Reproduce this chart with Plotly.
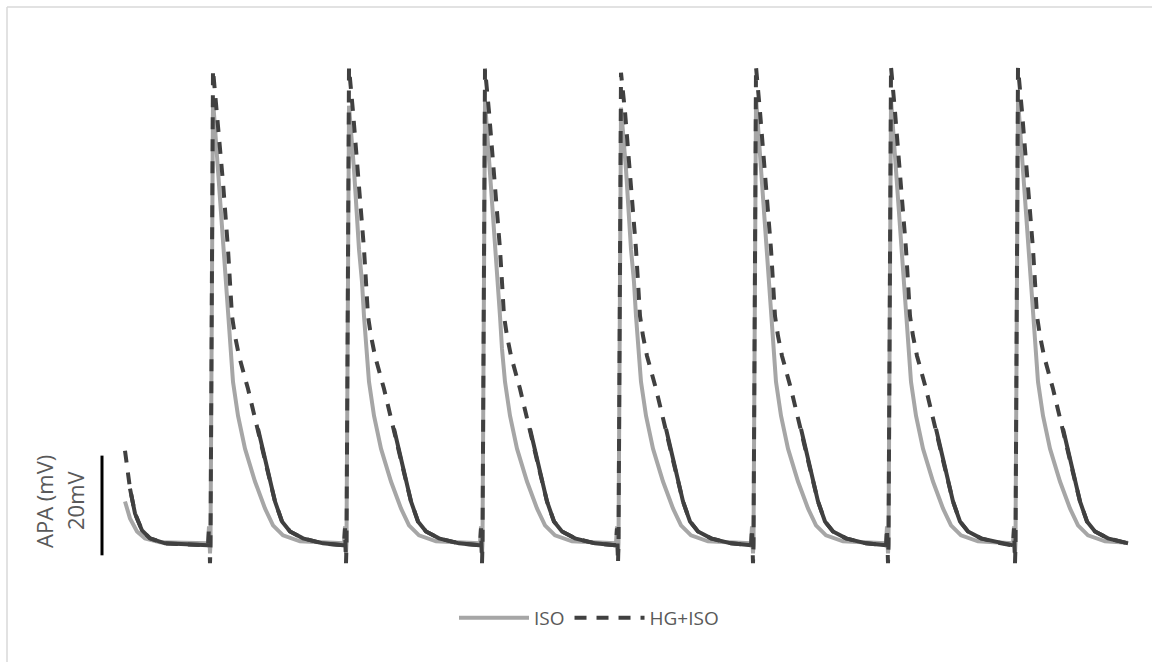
import plotly.graph_objects as go

# ---------------- data (time in ms, membrane potential in mV) ----------------
beat_onset_ms = [170, 442, 714, 986, 1256, 1526, 1780]
trace_end_ms = 2006

iso_peak_mv = [9.4, 8.2, 9.0, 7.8, 9.8, 9.4, 9.4]
hg_peak_mv = [15.4, 15.8, 15.6, 14.8, 16.0, 16.0, 15.8]

# one-beat waveform, relative to the stimulus onset
# (the entry at PEAK_IDX is replaced by each beat's own peak)
PEAK_IDX = 5
iso_beat_t = [-4, -2, -1, 0, 1, 6, 16, 26, 32, 36, 40, 46, 56, 70, 90, 110, 126,
              146, 180, 240]
iso_beat_v = [-79.6, -76.2, -79.6, -81.6, -79.6, 9.4, -4.6, -20.6, -27.2, -34.0,
              -40.6, -47.2, -54.0, -60.6, -67.2, -72.6, -76.0, -78.0, -79.2, -79.6]
hg_beat_t = [-4, -2, -1, 0, 1, 6, 14, 20, 26, 36, 40, 44, 50, 58, 76, 96, 114, 130,
             144, 160, 186, 226, 266]
hg_beat_v = [-80.0, -76.6, -80.0, -83.6, -80.0, 15.4, 7.0, 0.0, -7.2, -20.6, -27.2,
             -34.0, -38.0, -42.0, -48.6, -56.6, -64.6, -71.2, -75.2, -77.2, -78.6,
             -79.6, -80.0]

# tail of the preceding beat at the start of the recording
iso_start_t = [0, 10, 24, 40, 70, 166]
iso_start_v = [-71.2, -74.6, -77.2, -78.6, -79.4, -79.6]
hg_start_t = [0, 10, 20, 34, 50, 80, 166]
hg_start_v = [-61.0, -68.6, -73.6, -77.0, -78.6, -79.6, -80.0]

iso_end_v = -79.5
hg_end_v = -79.6

series_names = ["ISO", "HG+ISO"]
scale_bar_mv = [-82, -62]
scale_bar_t = -46


def build(start_t, start_v, beat_t, beat_v, peaks, end_v, solid_from_start, solid_from_beat):
    pts = []
    for t, v in zip(start_t, start_v):
        pts.append((t, v, t >= solid_from_start))
    n = len(beat_onset_ms)
    for i, onset in enumerate(beat_onset_ms):
        limit = beat_onset_ms[i + 1] + beat_t[0] if i + 1 < n else trace_end_ms
        for idx, (dt, v) in enumerate(zip(beat_t, beat_v)):
            t = onset + dt
            if t >= limit:
                break
            if idx == PEAK_IDX:
                v = peaks[i]
            pts.append((t, v, dt >= solid_from_beat or idx == 0))
    pts.append((trace_end_ms, end_v, True))
    return pts


iso_pts = build(iso_start_t, iso_start_v, iso_beat_t, iso_beat_v, iso_peak_mv, iso_end_v, 0, 0)
hg_pts = build(hg_start_t, hg_start_v, hg_beat_t, hg_beat_v, hg_peak_mv, hg_end_v, 10, 96)

# solid overlay for the slow phases of the HG+ISO trace
sx, sy = [], []
prev = False
for t, v, s in hg_pts:
    if s:
        sx.append(t)
        sy.append(v)
    elif prev:
        sx.append(None)
        sy.append(None)
    prev = s

GREY = "#a6a6a6"
DARK = "#404040"
TEXT = "#595959"
W, H = 1152, 662

fig = go.Figure()
fig.add_trace(go.Scatter(
    x=[p[0] for p in iso_pts], y=[p[1] for p in iso_pts], mode="lines",
    name=series_names[0], line=dict(color=GREY, width=4)))
fig.add_trace(go.Scatter(
    x=[p[0] for p in hg_pts], y=[p[1] for p in hg_pts], mode="lines",
    name=series_names[1], line=dict(color=DARK, width=4, dash="12px,10px")))
fig.add_trace(go.Scatter(
    x=sx, y=sy, mode="lines", showlegend=False, hoverinfo="skip",
    line=dict(color=DARK, width=4)))

fig.update_layout(
    width=W, height=H,
    margin=dict(l=0, r=0, t=0, b=0),
    paper_bgcolor="white", plot_bgcolor="white",
    font=dict(family="Open Sans, sans-serif", color=TEXT),
    xaxis=dict(visible=False, range=[-250, 2054]),
    yaxis=dict(visible=False, range=[-103.4, 29.4]),
    showlegend=True,
    legend=dict(orientation="h", x=589 / W, xanchor="center", y=1 - 618 / H,
                yanchor="middle", font=dict(size=19, color=TEXT),
                itemwidth=70, bgcolor="rgba(0,0,0,0)"),
    shapes=[
        dict(type="line", xref="x", yref="y", x0=scale_bar_t, x1=scale_bar_t,
             y0=scale_bar_mv[0], y1=scale_bar_mv[1], line=dict(color="black", width=3)),
        dict(type="line", xref="paper", yref="paper", x0=7 / W, x1=7 / W,
             y0=-0.1, y1=1 - 7 / H, line=dict(color="#d9d9d9", width=1.5)),
        dict(type="line", xref="paper", yref="paper", x0=7 / W, x1=1.1,
             y0=1 - 7 / H, y1=1 - 7 / H, line=dict(color="#d9d9d9", width=1.5)),
    ],
    annotations=[
        dict(text="APA (mV)", xref="paper", yref="paper", x=44 / W, y=1 - 502 / H,
             textangle=-90, showarrow=False, xanchor="center", yanchor="middle",
             font=dict(size=22, color=TEXT)),
        dict(text="20mV", xref="paper", yref="paper", x=75 / W, y=1 - 500 / H,
             textangle=-90, showarrow=False, xanchor="center", yanchor="middle",
             font=dict(size=22, color=TEXT)),
    ],
)

fig.write_html("out.html")
